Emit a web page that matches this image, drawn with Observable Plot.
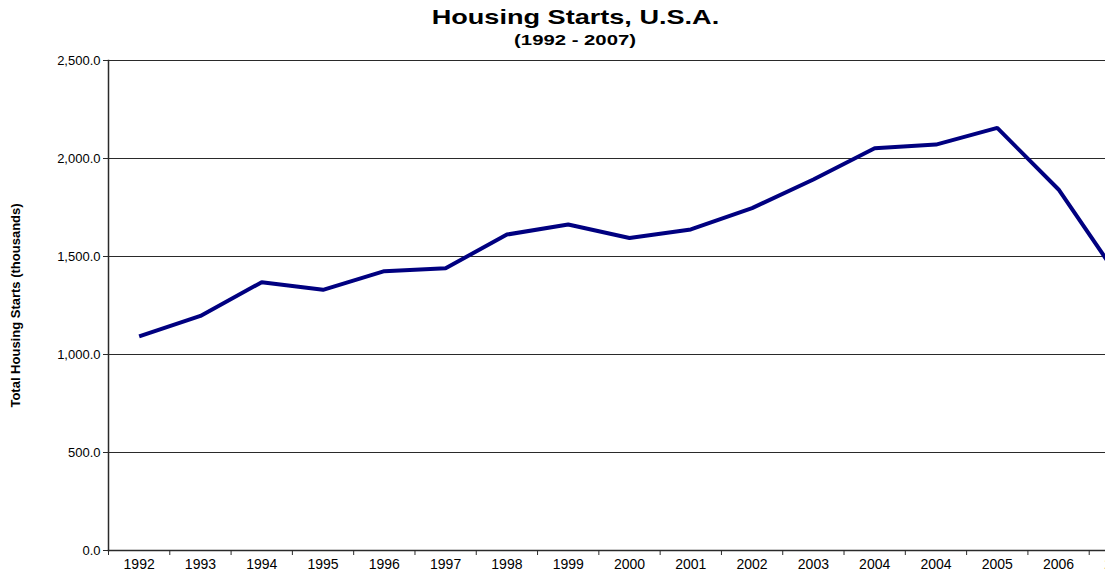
<!DOCTYPE html>
<html>
<head>
<meta charset="utf-8">
<script src="https://cdn.jsdelivr.net/npm/d3@7"></script>
<script src="https://cdn.jsdelivr.net/npm/@observablehq/plot@0.6"></script>
<style>
  html, body { margin: 0; padding: 0; background: #fff; overflow: hidden; width: 1105px; height: 575px; }
  #wrap { position: relative; width: 1160px; font-family: "Liberation Sans", Arial, sans-serif; }
  #head { position: relative; height: 52px; width: 1150px; }
  .t { position: absolute; left: 0; width: 1150px; text-align: center; font-weight: bold; color: #000; white-space: nowrap; }
  .t span { display: inline-block; transform-origin: center; }
  #title { top: 6px; font-size: 21px; line-height: 21px; }
  #title span { transform: scaleX(1.29); }
  #sub { top: 33px; font-size: 14px; line-height: 14px; }
  #sub span { transform: scaleX(1.45); }
  svg { display: block; overflow: visible; }
</style>
</head>
<body>
<div id="wrap">
  <div id="head">
    <div class="t" id="title"><span>Housing Starts, U.S.A.</span></div>
    <div class="t" id="sub"><span>(1992 - 2007)</span></div>
  </div>
  <div id="chart"></div>
</div>
<script>
// Category labels (note the repeated 2004 as in the source chart)
const yearLabels = ["1992","1993","1994","1995","1996","1997","1998","1999","2000","2001","2002","2003","2004","2004","2005","2006","2007"];
// Total housing starts (thousands)
const starts = [1092, 1197, 1369, 1330, 1425, 1440, 1612, 1663, 1594, 1638, 1747, 1893, 2052, 2071, 2156, 1842, 1385];
// Y tick values
const yTicks = [0, 500, 1000, 1500, 2000, 2500];
const yLabel = "Total Housing Starts (thousands)";

const idx = yearLabels.map((_, i) => i);
const bounds = [-0.5, ...idx.map(i => i + 0.5)];
const data = starts.map((v, i) => ({i, v}));

const chart = Plot.plot({
  width: 1160,
  height: 523,
  marginTop: 8,
  marginBottom: 25,
  marginLeft: 108,
  marginRight: 10,
  style: {fontFamily: "'Liberation Sans', Arial, sans-serif", color: "#000", background: "#fff"},
  x: {type: "linear", domain: [-0.5, yearLabels.length - 0.5]},
  y: {domain: [0, 2500]},
  marks: [
    Plot.ruleY(yTicks, {stroke: "#2a2a2a", strokeWidth: 1}),
    Plot.frame({anchor: "left", stroke: "#2a2a2a", strokeWidth: 1.5}),
    Plot.frame({anchor: "bottom", stroke: "#2a2a2a", strokeWidth: 1.5}),
    Plot.axisY({ticks: yTicks, tickSize: 5, tickPadding: 3, tickFormat: d3.format(",.1f"), fontSize: 13, label: null, stroke: "#2a2a2a"}),
    Plot.axisX({ticks: bounds, tickSize: 5, tickFormat: () => "", label: null, stroke: "#2a2a2a"}),
    Plot.axisX({ticks: idx, tickSize: 0, tickPadding: 9, tickFormat: i => yearLabels[i], fontSize: 14, label: null, style: {letterSpacing: "1px"}}),
    Plot.text([yLabel], {frameAnchor: "left", textAnchor: "middle", dx: -93, rotate: -90, fontWeight: "bold", fontSize: 13, fill: "#000", style: {letterSpacing: "0.4px"}}),
    Plot.line(data, {x: "i", y: "v", stroke: "#000080", strokeWidth: 4, strokeLinejoin: "miter", strokeLinecap: "butt"})
  ]
});
document.getElementById("chart").appendChild(chart);
</script>
</body>
</html>
